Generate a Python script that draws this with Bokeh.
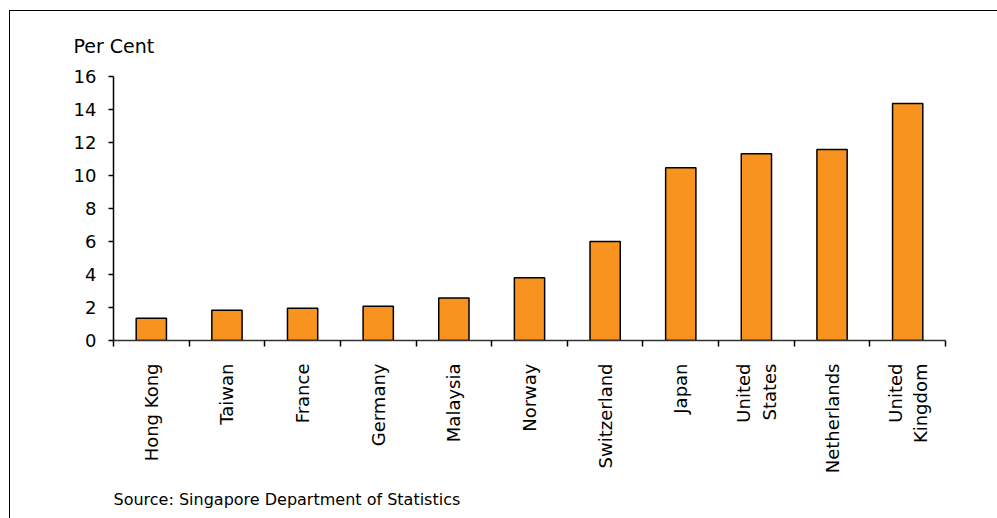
import math
from bokeh.plotting import figure
from bokeh.models import FixedTicker, Title, Range1d, ColumnDataSource
from bokeh.embed import file_html
from bokeh.resources import INLINE

countries = ["Hong Kong", "Taiwan", "France", "Germany", "Malaysia", "Norway",
             "Switzerland", "Japan", "United\nStates", "Netherlands", "United\nKingdom"]
values = [1.35, 1.84, 1.96, 2.08, 2.58, 3.8, 6.0, 10.47, 11.32, 11.57, 14.37]
y_ticks = [0, 2, 4, 6, 8, 10, 12, 14, 16]

xs = [i + 0.5 for i in range(len(countries))]
src = ColumnDataSource(dict(x=xs, top=values))

FONT = "DejaVu Sans"

p = figure(width=990, height=510, output_backend="svg", toolbar_location=None,
           x_range=Range1d(0, len(countries)), y_range=Range1d(0, 16),
           min_border_left=103, min_border_top=65, min_border_right=55, min_border_bottom=181)
p.styles = {"border": "1px solid #000000", "margin-left": "9px", "margin-top": "10px"}

p.vbar(x="x", top="top", width=0.4, source=src, fill_color="#F7931E",
       line_color="#000000", line_width=1.5)

p.outline_line_color = None
p.xgrid.grid_line_color = None
p.ygrid.grid_line_color = None

# x axis
p.xaxis.ticker = FixedTicker(ticks=xs, minor_ticks=list(range(len(countries) + 1)))
p.xaxis.major_label_overrides = {x: c for x, c in zip(xs, countries)}
p.xaxis.major_tick_line_color = None
p.xaxis.major_tick_out = 0
p.xaxis.major_tick_in = 0
p.xaxis.minor_tick_out = 6
p.xaxis.minor_tick_in = 0
p.xaxis.minor_tick_line_color = "#000000"
p.xaxis.minor_tick_line_width = 1.5
p.xaxis.axis_line_color = "#333333"
p.xaxis.axis_line_width = 1.5
p.xaxis.major_label_orientation = math.pi / 2
p.xaxis.major_label_standoff = 17
p.xaxis.major_label_text_font = FONT
p.xaxis.major_label_text_font_size = "18px"
p.xaxis.major_label_text_color = "#000000"

# y axis
p.yaxis.ticker = FixedTicker(ticks=y_ticks)
p.yaxis.minor_tick_line_color = None
p.yaxis.major_tick_out = 5
p.yaxis.major_tick_in = 0
p.yaxis.major_tick_line_color = "#000000"
p.yaxis.major_tick_line_width = 1.5
p.yaxis.axis_line_color = "#000000"
p.yaxis.axis_line_width = 1.5
p.yaxis.major_label_standoff = 12
p.yaxis.major_label_text_font = FONT
p.yaxis.major_label_text_font_size = "18px"
p.yaxis.major_label_text_color = "#000000"

p.title = Title(text="Per Cent", align="left", offset=-40, text_font=FONT,
                text_font_size="19px", text_font_style="normal", text_color="#000000",
                standoff=40)

src_title = Title(text="Source: Singapore Department of Statistics", align="left",
                  offset=0, text_font=FONT, text_font_size="16px",
                  text_font_style="normal", text_color="#000000", standoff=22)
p.add_layout(src_title, "below")

open("out.html", "w").write(file_html(p, INLINE))
